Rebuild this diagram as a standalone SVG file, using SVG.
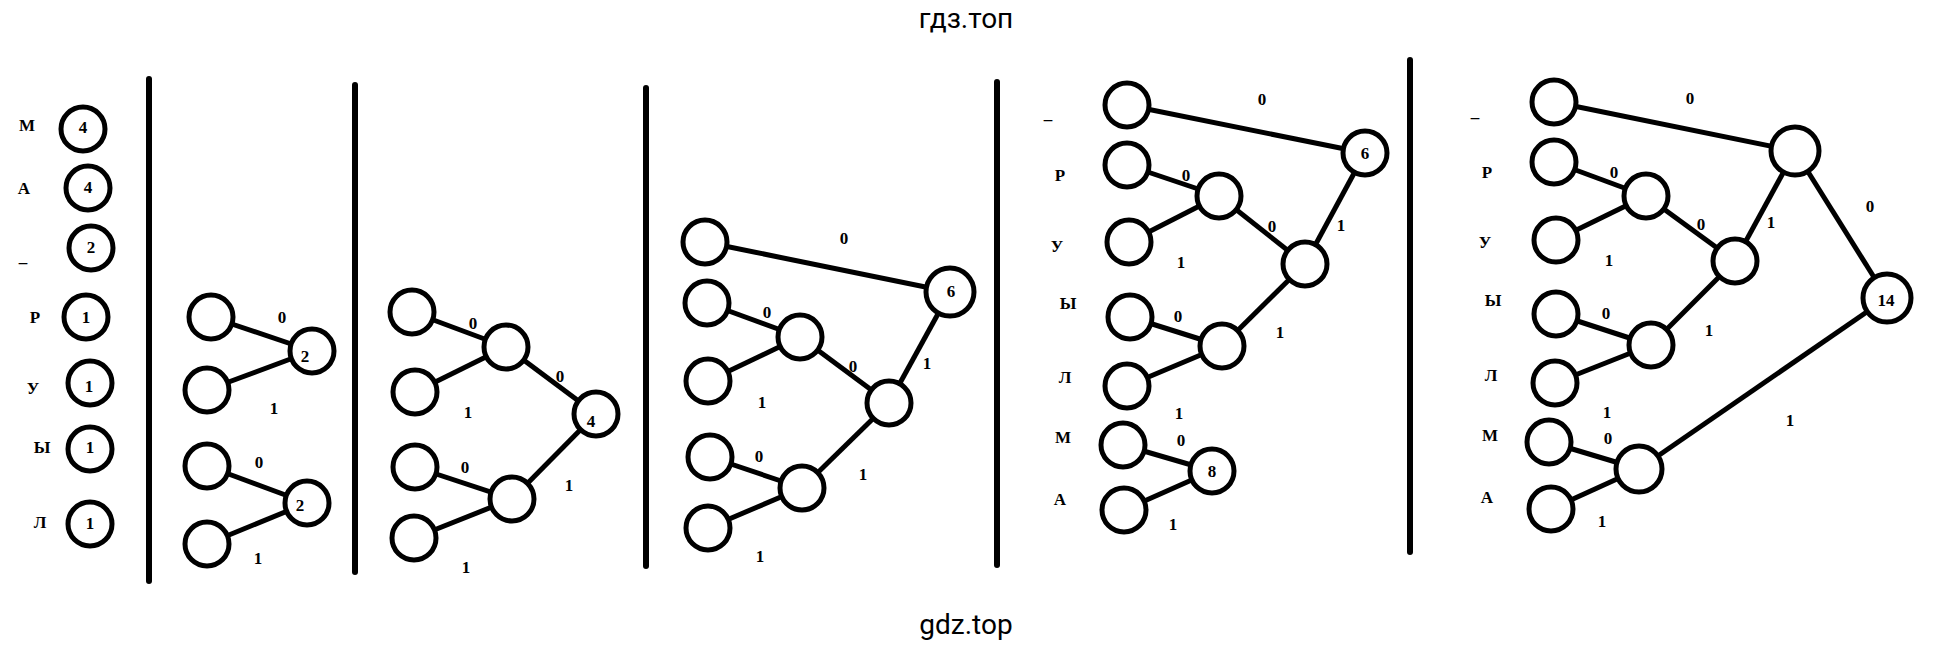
<svg xmlns="http://www.w3.org/2000/svg" width="1936" height="653" viewBox="0 0 1936 653">
<style>
.n{fill:#fff;stroke:#000;stroke-width:5}
.e line{stroke:#000;stroke-width:5}
.d{stroke:#000;stroke-width:6;stroke-linecap:round}
.t{font-family:"Liberation Serif",serif;font-weight:bold;font-size:17px;text-anchor:middle;dominant-baseline:central}
.l{font-family:"Liberation Serif",serif;font-weight:bold;font-size:17px;text-anchor:middle;dominant-baseline:central}
.w{font-family:Roboto,"Liberation Sans",sans-serif;font-size:28px;text-anchor:middle}
</style>
<rect width="1936" height="653" fill="#fff"/>
<text class="w" x="966" y="28">гдз.топ</text>
<text class="w" x="966" y="634">gdz.top</text>
<g id="dividers">
<line class="d" x1="149" y1="79" x2="149" y2="581"/>
<line class="d" x1="355" y1="85" x2="355" y2="572"/>
<line class="d" x1="646" y1="88" x2="646" y2="566"/>
<line class="d" x1="997" y1="82" x2="997" y2="565"/>
<line class="d" x1="1410" y1="60" x2="1410" y2="552"/>
</g>
<g class="e" id="connectors">
<line x1="211" y1="317" x2="312" y2="351"/><line x1="207" y1="390" x2="312" y2="351"/>
<line x1="207" y1="466" x2="307" y2="503"/><line x1="207" y1="544" x2="307" y2="503"/>
<line x1="412" y1="312" x2="506" y2="347"/><line x1="415" y1="392" x2="506" y2="347"/>
<line x1="415" y1="467" x2="512" y2="499"/><line x1="414" y1="538" x2="512" y2="499"/>
<line x1="506" y1="347" x2="596" y2="414"/><line x1="512" y1="499" x2="596" y2="414"/>
<line x1="705" y1="242" x2="950" y2="292"/>
<line x1="707" y1="303" x2="800" y2="337"/><line x1="708" y1="381" x2="800" y2="337"/>
<line x1="710" y1="457" x2="802" y2="488"/><line x1="708" y1="528" x2="802" y2="488"/>
<line x1="800" y1="337" x2="889" y2="403"/><line x1="802" y1="488" x2="889" y2="403"/>
<line x1="889" y1="403" x2="950" y2="292"/>
<line x1="1127" y1="105" x2="1365" y2="153"/>
<line x1="1127" y1="165" x2="1219" y2="196"/><line x1="1129" y1="242" x2="1219" y2="196"/>
<line x1="1130" y1="317" x2="1222" y2="346"/><line x1="1127" y1="386" x2="1222" y2="346"/>
<line x1="1219" y1="196" x2="1305" y2="264"/><line x1="1222" y1="346" x2="1305" y2="264"/>
<line x1="1305" y1="264" x2="1365" y2="153"/>
<line x1="1123" y1="445" x2="1212" y2="471"/><line x1="1124" y1="510" x2="1212" y2="471"/>
<line x1="1554" y1="102" x2="1795" y2="151"/>
<line x1="1554" y1="162" x2="1646" y2="196"/><line x1="1556" y1="240" x2="1646" y2="196"/>
<line x1="1556" y1="314" x2="1651" y2="345"/><line x1="1555" y1="383" x2="1651" y2="345"/>
<line x1="1646" y1="196" x2="1735" y2="261"/><line x1="1651" y1="345" x2="1735" y2="261"/>
<line x1="1735" y1="261" x2="1795" y2="151"/>
<line x1="1795" y1="151" x2="1887" y2="298"/>
<line x1="1549" y1="442" x2="1639" y2="469"/><line x1="1551" y1="509" x2="1639" y2="469"/>
<line x1="1639" y1="469" x2="1887" y2="298"/>
</g>
<g id="edge-labels" class="l">
<text x="282" y="317">0</text><text x="274" y="408">1</text><text x="259" y="462">0</text><text x="258" y="558">1</text>
<text x="473" y="323">0</text><text x="468" y="412">1</text><text x="560" y="376">0</text><text x="465" y="467">0</text><text x="569" y="485">1</text><text x="466" y="567">1</text>
<text x="844" y="238">0</text><text x="767" y="312">0</text><text x="762" y="402">1</text><text x="853" y="366">0</text><text x="927" y="363">1</text><text x="759" y="456">0</text><text x="863" y="474">1</text><text x="760" y="556">1</text>
<text x="1262" y="99">0</text><text x="1186" y="175">0</text><text x="1272" y="226">0</text><text x="1341" y="225">1</text><text x="1181" y="262">1</text><text x="1178" y="316">0</text><text x="1280" y="332">1</text><text x="1179" y="413">1</text><text x="1181" y="440">0</text><text x="1173" y="524">1</text>
<text x="1690" y="98">0</text><text x="1614" y="172">0</text><text x="1609" y="260">1</text><text x="1701" y="224">0</text><text x="1771" y="222">1</text><text x="1870" y="206">0</text><text x="1606" y="313">0</text><text x="1709" y="330">1</text><text x="1607" y="412">1</text><text x="1608" y="438">0</text><text x="1602" y="521">1</text><text x="1790" y="420">1</text>
</g>
<g id="symbols" class="l">
<text x="27" y="125">М</text><text x="24" y="188">А</text><text x="23" y="256">_</text><text x="35" y="317">Р</text><text x="33" y="388">У</text><text x="42" y="447">Ы</text><text x="40" y="522">Л</text>
<text x="1048" y="113">_</text><text x="1060" y="175">Р</text><text x="1057" y="246">У</text><text x="1068" y="303">Ы</text><text x="1065" y="377">Л</text><text x="1063" y="437">М</text><text x="1060" y="499">А</text>
<text x="1475" y="111">_</text><text x="1487" y="172">Р</text><text x="1485" y="242">У</text><text x="1493" y="300">Ы</text><text x="1491" y="375">Л</text><text x="1490" y="435">М</text><text x="1487" y="497">А</text>
</g>
<g id="p1-M"><circle class="n" cx="83" cy="129" r="22"/><text class="t" x="83" y="127">4</text></g>
<g id="p1-A"><circle class="n" cx="88" cy="188" r="22"/><text class="t" x="88" y="187">4</text></g>
<g id="p1-S"><circle class="n" cx="91" cy="248" r="22"/><text class="t" x="91" y="247">2</text></g>
<g id="p1-R"><circle class="n" cx="86" cy="317" r="22"/><text class="t" x="86" y="317">1</text></g>
<g id="p1-U"><circle class="n" cx="90" cy="383" r="22"/><text class="t" x="89" y="386">1</text></g>
<g id="p1-Y"><circle class="n" cx="90" cy="449" r="22"/><text class="t" x="90" y="447">1</text></g>
<g id="p1-L"><circle class="n" cx="90" cy="524" r="22"/><text class="t" x="90" y="523">1</text></g>
<g id="p2-a"><circle class="n" cx="211" cy="317" r="22"/></g>
<g id="p2-b"><circle class="n" cx="207" cy="390" r="22"/></g>
<g id="p2-c"><circle class="n" cx="207" cy="466" r="22"/></g>
<g id="p2-d"><circle class="n" cx="207" cy="544" r="22"/></g>
<g id="p2-ab"><circle class="n" cx="312" cy="351" r="22"/><text class="t" x="305" y="356">2</text></g>
<g id="p2-cd"><circle class="n" cx="307" cy="503" r="22"/><text class="t" x="300" y="505">2</text></g>
<g id="p3-a"><circle class="n" cx="412" cy="312" r="22"/></g>
<g id="p3-b"><circle class="n" cx="415" cy="392" r="22"/></g>
<g id="p3-c"><circle class="n" cx="415" cy="467" r="22"/></g>
<g id="p3-d"><circle class="n" cx="414" cy="538" r="22"/></g>
<g id="p3-ab"><circle class="n" cx="506" cy="347" r="22"/></g>
<g id="p3-cd"><circle class="n" cx="512" cy="499" r="22"/></g>
<g id="p3-4"><circle class="n" cx="596" cy="414" r="22"/><text class="t" x="591" y="421">4</text></g>
<g id="p4-s"><circle class="n" cx="705" cy="242" r="22"/></g>
<g id="p4-a"><circle class="n" cx="707" cy="303" r="22"/></g>
<g id="p4-b"><circle class="n" cx="708" cy="381" r="22"/></g>
<g id="p4-c"><circle class="n" cx="710" cy="457" r="22"/></g>
<g id="p4-d"><circle class="n" cx="708" cy="528" r="22"/></g>
<g id="p4-ab"><circle class="n" cx="800" cy="337" r="22"/></g>
<g id="p4-cd"><circle class="n" cx="802" cy="488" r="22"/></g>
<g id="p4-4"><circle class="n" cx="889" cy="403" r="22"/></g>
<g id="p4-6"><circle class="n" cx="950" cy="292" r="24"/><text class="t" x="951" y="291">6</text></g>
<g id="p5-s"><circle class="n" cx="1127" cy="105" r="22"/></g>
<g id="p5-R"><circle class="n" cx="1127" cy="165" r="22"/></g>
<g id="p5-U"><circle class="n" cx="1129" cy="242" r="22"/></g>
<g id="p5-Y"><circle class="n" cx="1130" cy="317" r="22"/></g>
<g id="p5-L"><circle class="n" cx="1127" cy="386" r="22"/></g>
<g id="p5-M"><circle class="n" cx="1123" cy="445" r="22"/></g>
<g id="p5-A"><circle class="n" cx="1124" cy="510" r="22"/></g>
<g id="p5-RU"><circle class="n" cx="1219" cy="196" r="22"/></g>
<g id="p5-YL"><circle class="n" cx="1222" cy="346" r="22"/></g>
<g id="p5-4"><circle class="n" cx="1305" cy="264" r="22"/></g>
<g id="p5-6"><circle class="n" cx="1365" cy="153" r="22"/><text class="t" x="1365" y="153">6</text></g>
<g id="p5-8"><circle class="n" cx="1212" cy="471" r="22"/><text class="t" x="1212" y="471">8</text></g>
<g id="p6-s"><circle class="n" cx="1554" cy="102" r="22"/></g>
<g id="p6-R"><circle class="n" cx="1554" cy="162" r="22"/></g>
<g id="p6-U"><circle class="n" cx="1556" cy="240" r="22"/></g>
<g id="p6-Y"><circle class="n" cx="1556" cy="314" r="22"/></g>
<g id="p6-L"><circle class="n" cx="1555" cy="383" r="22"/></g>
<g id="p6-M"><circle class="n" cx="1549" cy="442" r="22"/></g>
<g id="p6-A"><circle class="n" cx="1551" cy="509" r="22"/></g>
<g id="p6-RU"><circle class="n" cx="1646" cy="196" r="22"/></g>
<g id="p6-YL"><circle class="n" cx="1651" cy="345" r="22"/></g>
<g id="p6-4"><circle class="n" cx="1735" cy="261" r="22"/></g>
<g id="p6-6"><circle class="n" cx="1795" cy="151" r="24"/></g>
<g id="p6-MA"><circle class="n" cx="1639" cy="469" r="23"/></g>
<g id="p6-14"><circle class="n" cx="1887" cy="298" r="24"/><text class="t" x="1886" y="300">14</text></g>
</svg>
